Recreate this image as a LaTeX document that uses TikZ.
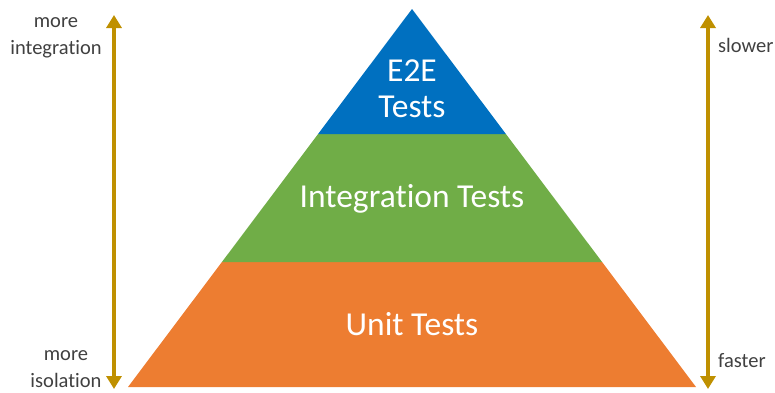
\documentclass[tikz,border=0pt]{standalone}
\usepackage{fontspec}
\setmainfont{Carlito}[Ligatures=NoCommon]
\usetikzlibrary{arrows.meta,calc}
\definecolor{pblue}{HTML}{0070C0}
\definecolor{pgreen}{HTML}{70AD47}
\definecolor{porange}{HTML}{ED7D31}
\definecolor{pgold}{HTML}{BF9000}
\definecolor{ptext}{HTML}{404040}
\begin{document}
\begin{tikzpicture}[x=1pt,y=-1pt,
  layerlabel/.style={text=white,font=\fontsize{33.5}{36}\selectfont,align=center,inner sep=0pt},
  sidelabel/.style={text=ptext,font=\fontsize{20.5}{27}\selectfont,align=center,inner sep=0pt},
  axisarrow/.style={draw=pgold,line width=4pt,{Triangle[width=15pt,length=13pt]}-{Triangle[width=15pt,length=13pt]}}]
\useasboundingbox (0,0) rectangle (775,392);
% pyramid layers
\coordinate (apex) at (412,9);
\coordinate (bl) at (128,387);
\coordinate (br) at (696,387);
\fill[porange] ($(apex)!{(262-9)/(387-9)}!(bl)$) -- (bl) -- (br) -- ($(apex)!{(262-9)/(387-9)}!(br)$) -- cycle;
\fill[pgreen] ($(apex)!{(134-9)/(387-9)}!(bl)$) -- ($(apex)!{(262-9)/(387-9)}!(bl)$) -- ($(apex)!{(262-9)/(387-9)}!(br)$) -- ($(apex)!{(134-9)/(387-9)}!(br)$) -- cycle;
\fill[pblue] (apex) -- ($(apex)!{(134-9)/(387-9)}!(bl)$) -- ($(apex)!{(134-9)/(387-9)}!(br)$) -- cycle;
% layer labels
\node[layerlabel] (e2e) at (412,89) {E2E\\Tests};
\node[layerlabel] (integ) at (412,199) {Integration Tests};
\node[layerlabel] (unit) at (412,324) {Unit Tests};
% axes
\coordinate (la) at (114,15);
\coordinate (lb) at (114,389);
\coordinate (ra) at (708,15);
\coordinate (rb) at (708,389);
\draw[axisarrow] (lb) -- (la);
\draw[axisarrow] (rb) -- (ra);
% side labels
\node[sidelabel] (moreint) at (56,38) {more\\integration};
\node[sidelabel] (moreiso) at (66,369) {more\\isolation};
\node[sidelabel,anchor=west] (slower) at (718,45) {slower};
\node[sidelabel,anchor=west] (faster) at (718,361) {faster};
\end{tikzpicture}
\end{document}
